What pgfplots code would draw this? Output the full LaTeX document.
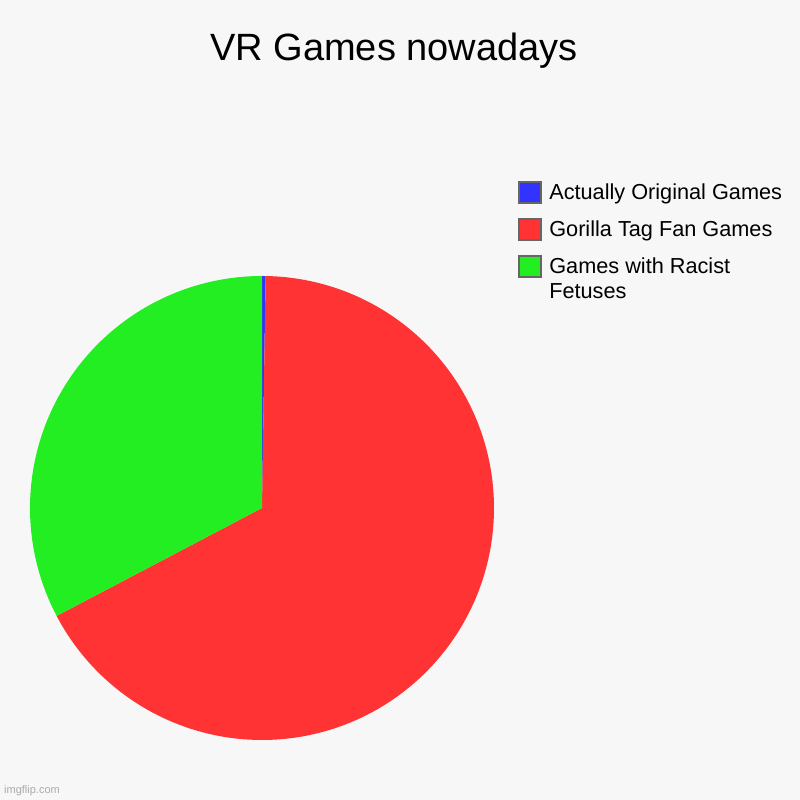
\documentclass[border=0pt]{standalone}
\usepackage{pgfplots}
\pgfplotsset{compat=1.18}
\usepackage{fontspec}
\setmainfont{Liberation Sans}
\definecolor{bgc}{HTML}{F7F7F7}
\definecolor{pblue}{HTML}{3333FF}
\definecolor{pred}{HTML}{FF3333}
\definecolor{pgreen}{HTML}{22EE22}
\definecolor{boxgray}{HTML}{666666}
\definecolor{wmgray}{HTML}{AAAAAA}
\pgfplotsset{
  onelineimg/.style={legend image code/.code={\draw[##1, draw=boxgray, line width=2bp] (1bp,-4bp) rectangle (23bp,17.3bp);}},
  twolineimg/.style={legend image code/.code={\draw[##1, draw=boxgray, line width=2bp] (1bp,21.6bp) rectangle (23bp,42.9bp);}},
}
% slice values (percent)
\def\vA{0.25}   % Actually Original Games
\def\vB{67.05}  % Gorilla Tag Fan Games
\def\vC{32.70}  % Games with Racist Fetuses
\pgfmathsetmacro{\aZ}{90}
\pgfmathsetmacro{\aA}{\aZ-3.6*\vA}
\pgfmathsetmacro{\aB}{\aA-3.6*\vB}
\pgfmathsetmacro{\aC}{\aB-3.6*\vC}
\begin{document}
\begin{tikzpicture}[x=1bp,y=1bp]
\useasboundingbox (0,0) rectangle (800,800);
\fill[bgc] (0,0) rectangle (800,800);
\node[anchor=base, inner sep=0pt, font=\fontsize{38bp}{45bp}\selectfont] at (394,739.3) {VR Games nowadays};
\node[anchor=base west, inner sep=0pt, text=wmgray, font=\fontsize{11bp}{13bp}\selectfont] at (4,6) {imgflip.com};
\begin{axis}[
  at={(30bp,60bp)}, anchor=south west,
  scale only axis, width=464bp, height=464bp,
  xmin=-1, xmax=1, ymin=-1, ymax=1,
  hide axis, clip=false,
  legend style={at={(1.0524,1.2047)}, anchor=north west, draw=none, fill=none,
    inner sep=0pt, outer sep=0pt, column sep=7bp, row sep=13.7bp,
    font=\fontsize{21.7bp}{25.6bp}\selectfont,
    nodes={inner sep=0pt, outer sep=0pt},
    cells={anchor=base west, align=left}},
  onelineimg,
]
\addplot[fill=pblue, draw=none, domain=\aA:\aZ, samples=3] ({cos(x)},{sin(x)}) -- (0,0) -- cycle;
\addlegendentry{Actually Original Games}
\addplot[fill=pred, draw=none, domain=\aB:\aA, samples=200] ({cos(x)},{sin(x)}) -- (0,0) -- cycle;
\addlegendentry{Gorilla Tag Fan Games}
\addplot[fill=pgreen, draw=none, domain=\aC:\aB, samples=100, twolineimg] ({cos(x)},{sin(x)}) -- (0,0) -- cycle;
\addlegendentry{Games with Racist\\Fetuses}
\end{axis}
\end{tikzpicture}
\end{document}
